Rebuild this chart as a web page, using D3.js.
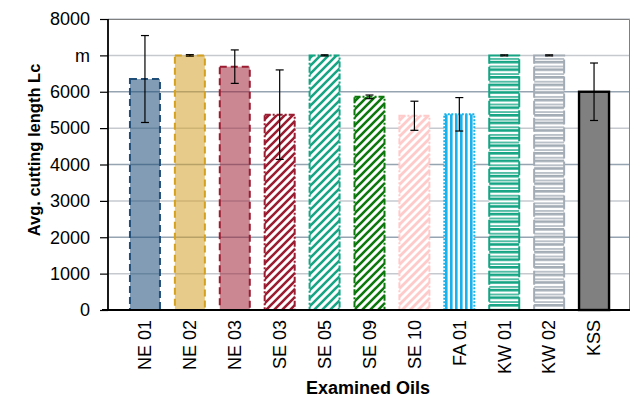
<!DOCTYPE html>
<html><head><meta charset="utf-8">
<script src="https://cdn.jsdelivr.net/npm/d3@7/dist/d3.min.js"></script>
<style>body{margin:0;background:#fff}svg{display:block}</style>
</head><body>
<svg id="c" width="632" height="401"></svg>
<script>
const categories = ["NE 01","NE 02","NE 03","SE 03","SE 05","SE 09","SE 10","FA 01","KW 01","KW 02","KSS"];
const values =     [6350, 7000, 6690, 5370, 7000, 5860, 5340, 5380, 7000, 7000, 6000];
const errors =     [1195,   20,  460, 1230,   15,   50,  400,  460,   15,   15,  790];
const yTicks = [0,1000,2000,3000,4000,5000,6000,7000,8000];
const yTickLabels = ["0","1000","2000","3000","4000","5000","6000","m","8000"];

(function(){
const mLeft=108, mRight=630, mTop=19, mBottom=310;
const svg=d3.select("#c");
const font="'Liberation Sans', Arial, sans-serif";

const x=d3.scaleBand().domain(categories).range([122.5,616.5]).paddingInner(0.33).paddingOuter(0.165);
const y=d3.scaleLinear().domain([0,8000]).range([mBottom,mTop]);

// patterns
const defs=svg.append("defs");
function diag(id,color,w){
  const p=defs.append("pattern").attr("id",id).attr("patternUnits","userSpaceOnUse").attr("width",8).attr("height",8);
  p.append("rect").attr("width",8).attr("height",8).attr("fill","#fff");
  p.append("path").attr("d","M-2,2 L2,-2 M0,8 L8,0 M6,10 L10,6").attr("stroke",color).attr("stroke-width",w);
}
diag("pSE03","#9b1b30",2.6);
diag("pSE05","#16a584",2.6);
diag("pSE09","#0c780c",2.6);
diag("pSE10","#ffcaca",2.8);
(function(){
  const p=defs.append("pattern").attr("id","pFA01").attr("patternUnits","userSpaceOnUse").attr("width",5).attr("height",5);
  p.append("rect").attr("width",5).attr("height",5).attr("fill","#fff");
  p.append("rect").attr("x",0).attr("width",2.6).attr("height",5).attr("fill","#1ab2ea");
})();
function horiz(id,color){
  const p=defs.append("pattern").attr("id",id).attr("patternUnits","userSpaceOnUse").attr("width",8).attr("height",7.6);
  p.append("rect").attr("width",8).attr("height",7.6).attr("fill","#fff");
  p.append("rect").attr("y",0).attr("width",8).attr("height",2.6).attr("fill",color);
  p.append("rect").attr("y",5).attr("width",8).attr("height",1.4).attr("fill",color);
}
horiz("pKW01","#16a584");
horiz("pKW02","#a3acb5");

const styles={
 "NE 01":{fill:"#1f4e79",op:0.56,stroke:"#1f4e79",dash:"7,4",sw:2},
 "NE 02":{fill:"#d4a12a",op:0.55,stroke:"#d4a020",dash:"7,4",sw:2},
 "NE 03":{fill:"#9b1b30",op:0.52,stroke:"#9b1b30",dash:"7,4",sw:2},
 "SE 03":{fill:"url(#pSE03)",op:1,stroke:"#9b1b30",dash:"6,2,2,2",sw:2},
 "SE 05":{fill:"url(#pSE05)",op:1,stroke:"#16a584",dash:"6,2,2,2",sw:2},
 "SE 09":{fill:"url(#pSE09)",op:1,stroke:"#0c780c",dash:"6,2,2,2",sw:2},
 "SE 10":{fill:"url(#pSE10)",op:1,stroke:"#ffcaca",dash:"6,2,2,2",sw:2},
 "FA 01":{fill:"url(#pFA01)",op:1,stroke:"#1ab2ea",dash:"2,1.5",sw:2},
 "KW 01":{fill:"url(#pKW01)",op:1,stroke:"#16a584",dash:"14,3",sw:2},
 "KW 02":{fill:"url(#pKW02)",op:1,stroke:"#a3acb5",dash:"14,3",sw:2},
 "KSS":  {fill:"#808080",op:1,stroke:"#000",dash:null,sw:2.4}
};

// gridlines
svg.append("g").selectAll("line").data(yTicks.filter(t=>t>0)).join("line")
  .attr("x1",mLeft).attr("x2",mRight).attr("y1",d=>y(d)).attr("y2",d=>y(d))
  .attr("stroke",d=> (d/1000)%2===0 && d!==8000 ? "#96a3b1" : "#c6cacf").attr("stroke-width",1.5);
// frame top/right
svg.append("path").attr("d",`M${mLeft},${mTop+0.5}H${mRight-0.5}V${mBottom}`).attr("fill","none").attr("stroke","#7f7f7f").attr("stroke-width",1);

// bars
const bw=30;
svg.append("g").selectAll("rect").data(categories).join("rect")
  .attr("x",d=>x(d)+x.bandwidth()/2-bw/2).attr("width",bw)
  .attr("y",(d,i)=>y(values[i])).attr("height",(d,i)=>y(0)-y(values[i]))
  .attr("fill",d=>styles[d].fill).attr("fill-opacity",d=>styles[d].op)
  .attr("stroke",d=>styles[d].stroke).attr("stroke-width",d=>styles[d].sw)
  .attr("stroke-dasharray",d=>styles[d].dash);

// error bars
const eb=svg.append("g").attr("stroke","#000").attr("stroke-width",1.2);
categories.forEach((c,i)=>{
  const cx=x(c)+x.bandwidth()/2;
  const y1=y(values[i]+errors[i]), y2=y(values[i]-errors[i]);
  eb.append("line").attr("x1",cx).attr("x2",cx).attr("y1",y1).attr("y2",y2);
  eb.append("line").attr("x1",cx-4).attr("x2",cx+4).attr("y1",y1).attr("y2",y1);
  eb.append("line").attr("x1",cx-4).attr("x2",cx+4).attr("y1",y2).attr("y2",y2);
});

// y axis
const yAxis=d3.axisLeft(y).tickValues(yTicks).tickSize(8).tickPadding(10).tickFormat((d,i)=>yTickLabels[i]);
const ga=svg.append("g").attr("transform",`translate(${mLeft},0)`).call(yAxis);
ga.select(".domain").attr("stroke","#000").attr("stroke-width",1.8).attr("d",`M0,${mTop}V${mBottom}`);
ga.selectAll(".tick line").attr("stroke","#000").attr("stroke-width",1.2);
ga.selectAll("text").attr("font-family",font).attr("font-size",18).attr("fill","#000");

// x axis
const xAxis=d3.axisBottom(x).tickSize(0).tickPadding(0);
const gx=svg.append("g").attr("transform",`translate(0,${mBottom})`).call(xAxis);
gx.select(".domain").remove();
gx.selectAll("text").attr("font-family",font).attr("font-size",18).attr("fill","#000")
  .attr("transform","rotate(-90)").attr("text-anchor","end").attr("dy","0.35em").attr("x",-10).attr("y",0);
svg.append("line").attr("x1",mLeft-6).attr("x2",mRight).attr("y1",mBottom).attr("y2",mBottom).attr("stroke","#000").attr("stroke-width",1.8);

// titles
svg.append("text").attr("x",368).attr("y",394).attr("text-anchor","middle")
  .attr("font-family",font).attr("font-weight","bold").attr("font-size",18).text("Examined Oils");
svg.append("text").attr("transform",`translate(40,150) rotate(-90)`).attr("text-anchor","middle")
  .attr("font-family",font).attr("font-weight","bold").attr("font-size",16.5).text("Avg. cutting length Lc");
})();
</script>
</body></html>
